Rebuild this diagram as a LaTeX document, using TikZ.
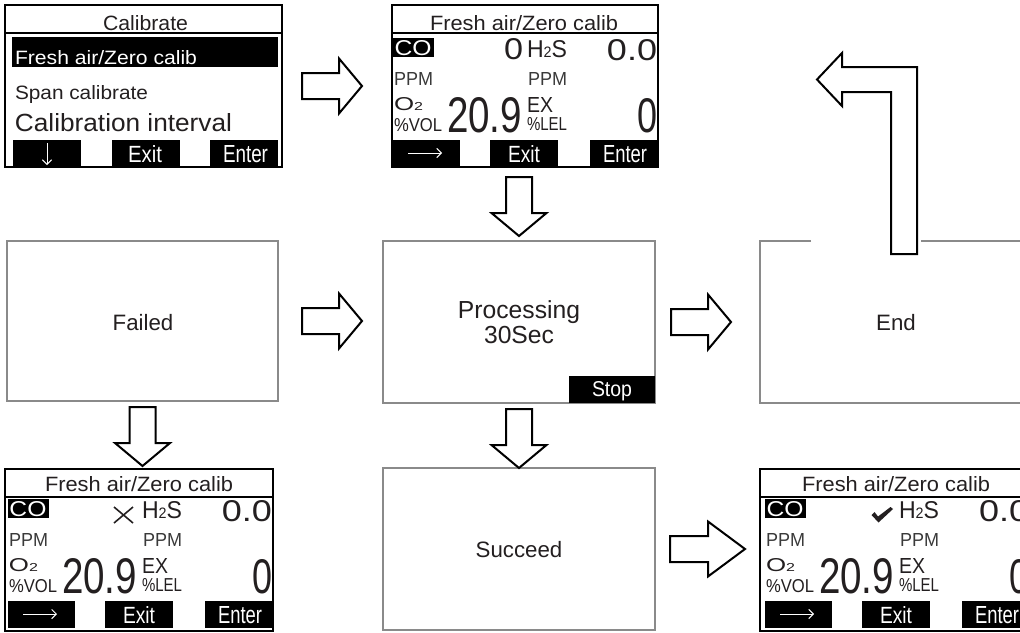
\documentclass[tikz,border=0pt]{standalone}
\usepackage{fontspec}
\setmainfont{Liberation Sans}
\usetikzlibrary{calc,arrows.meta}
\newdimen\pxu \pxu=0.75pt
\newcommand\fitT[3]{\resizebox{#1\pxu}{#2\pxu}{#3}}
\definecolor{ink}{HTML}{231F20}
\definecolor{inkg}{HTML}{3A3A3A}
\definecolor{frameg}{HTML}{8A8A8A}
\tikzset{
  scr/.style={draw=black, line width=0.8pt, fill=white, inner sep=0pt, outer sep=0pt, anchor=north west},
  panel/.style={draw=frameg, line width=1pt, inner sep=0pt, outer sep=0pt, anchor=north west},
  tx/.style={inner sep=0pt, outer sep=0pt, text=ink},
  wtx/.style={inner sep=0pt, outer sep=0pt, text=white},
  bar/.style={fill=black, draw=none},
  sepl/.style={draw=black, line width=0.8pt},
  barrow/.style={draw=black, line width=1.5pt, fill=white, line join=miter},
  thin arr/.style={white, line width=0.7pt, -{Straight Barb[length=3.5pt, width=7pt]}},
  midtext/.style={tx, anchor=base, font=\fontsize{16.7}{19}\selectfont},
}
\newcommand\rarr[3]{%
  \draw[barrow] (#1) ++(0,-13) -- ++(#2,0) -- ++(0,-14.5) -- ++(#3,27.5) -- ++(-#3,27.5) -- ++(0,-14.5) -- ++(-#2,0) -- cycle;}
\newcommand\darr[1]{%
  \draw[barrow] (#1) ++(-13,0) -- ++(26,0) -- ++(0,36) -- ++(14.5,0) -- ++(-27.5,23) -- ++(-27.5,-23) -- ++(14.5,0) -- cycle;}
\newcommand\gascontent[4]{%
\begin{scope}[shift={(#2,#3)}]
  \node[tx, anchor=base west] (#1t) at (38,25) {\fitT{188}{15}{Fresh air/Zero calib}};
  \fill[bar] (1,33) rectangle (42,52);
  \node[wtx, anchor=base west] (#1co) at (2.5,50) {\fitT{37}{15}{CO}};
  #4
  \node[tx, anchor=base west] (#1h) at (135,52) {\fitT{40}{17}{H\scalebox{0.62}{2}S}};
  \node[tx, anchor=base east] (#1a) at (265,55) {\fitT{50}{21}{0.0}};
  \node[tx, text=inkg, anchor=base west] (#1p) at (2,80) {\fitT{39}{13}{PPM}};
  \node[tx, text=inkg, anchor=base west] (#1q) at (136,80) {\fitT{39}{13}{PPM}};
  \node[tx, anchor=base west] (#1o) at (2,105) {\fitT{29}{13}{O\scalebox{0.62}{2}}};
  \node[tx, anchor=base west] (#1v) at (2,126) {\fitT{48}{13}{\%VOL}};
  \node[tx, anchor=base west] (#1n) at (55,127) {\fitT{75}{35}{20.9}};
  \node[tx, anchor=base west] (#1e) at (135,107) {\fitT{26}{15}{EX}};
  \node[tx, anchor=base west] (#1l) at (135,125) {\fitT{40}{13}{\%LEL}};
  \node[tx, anchor=base east] (#1z) at (265,127) {\fitT{20}{34}{0}};
  \fill[bar] (1,135) rectangle (68,162);
  \fill[bar] (98,135) rectangle (166,162);
  \fill[bar] (198,135) rectangle (265,162);
  \draw[thin arr] (16,148) -- (50,148);
  \node[wtx, anchor=base west] (#1x) at (116,157) {\fitT{32}{17}{Exit}};
  \node[wtx, anchor=base west] (#1en) at (211,157) {\fitT{44}{17}{Enter}};
\end{scope}}
\begin{document}
\begin{tikzpicture}[x=0.75pt, y=-0.75pt]
\useasboundingbox (0,0) rectangle (1020,632);
\clip (0,0) rectangle (1020,632);
\fill[white] (0,0) rectangle (1020,632);

% ---- screen 1: Calibrate menu
\node[scr, minimum width=277*0.75pt, minimum height=162*0.75pt] (s1) at (5,5) {};
\draw[sepl] ($(s1.north west)+(0,28)$) -- ($(s1.north east)+(0,28)$);
\node[tx, anchor=base] (s1t) at (145.5,30) {\fitT{85}{15}{Calibrate}};
\fill[bar] (12,37) rectangle (278,67);
\node[wtx, anchor=base west] (s1a) at (15,64) {\fitT{182}{14}{Fresh air/Zero calib}};
\node[tx, anchor=base west] (s1b) at (15,99) {\fitT{133}{14}{Span calibrate}};
\node[tx, anchor=base west] (s1c) at (15,131) {\fitT{217}{18}{Calibration interval}};
\fill[bar] (13,140) rectangle (81,167);
\fill[bar] (112,140) rectangle (180,167);
\fill[bar] (210,140) rectangle (278,167);
\draw[thin arr] (47,143) -- (47,165);
\node[wtx, anchor=base west] (s1x) at (128,162) {\fitT{34}{17}{Exit}};
\node[wtx, anchor=base west] (s1en) at (223,162) {\fitT{45}{17}{Enter}};

% ---- screen 2: zero calib
\node[scr, minimum width=266*0.75pt, minimum height=162*0.75pt] (s2) at (392,5) {};
\draw[sepl] ($(s2.north west)+(0,28)$) -- ($(s2.north east)+(0,28)$);
\gascontent{s2}{392}{5}{\node[tx, anchor=base east] (s2zero) at (131,54) {\fitT{19}{21}{0}};}

% ---- middle row panels
\node[panel, minimum width=271*0.75pt, minimum height=160*0.75pt] (fail) at (7,241) {};
\node[midtext] (failt) at (143,330) {Failed};
\node[panel, minimum width=272*0.75pt, minimum height=162*0.75pt] (proc) at (383,241) {};
\fill[bar] ($(proc.south east)+(-86,-27)$) rectangle (proc.south east);
\node[tx, anchor=base, font=\fontsize{18.5}{21}\selectfont] (proct) at (519,318) {Processing};
\node[tx, anchor=base, font=\fontsize{18.5}{21}\selectfont] (procs) at (519,343) {30Sec};
\node[wtx, anchor=base west] (stop) at (592,396) {\fitT{40}{15}{Stop}};
\node[inner sep=0pt, outer sep=0pt, anchor=north west, minimum width=272*0.75pt, minimum height=162*0.75pt] (end) at (760,241) {};
\draw[draw=frameg, line width=1pt] ($(end.north west)+(51,0)$) -- (end.north west) -- (end.south west) -- (end.south east) -- (end.north east) -- ($(end.north west)+(161,0)$);
\node[midtext] (endt) at (896,330) {End};
\node[panel, minimum width=272*0.75pt, minimum height=162*0.75pt] (succ) at (383,468) {};
\node[midtext] (succt) at (519,557) {Succeed};

% ---- bottom screens
\node[scr, minimum width=268*0.75pt, minimum height=162*0.75pt] (bl) at (5,469) {};
\draw[sepl] ($(bl.north west)+(0,28)$) -- ($(bl.north east)+(0,28)$);
\gascontent{bl}{7}{466}{\draw[ink, line width=1.2pt] (107,41) -- (126,57) (107,57) -- (126,41);}
\node[scr, minimum width=272*0.75pt, minimum height=162*0.75pt] (br) at (760,469) {};
\draw[sepl] ($(br.north west)+(0,28)$) -- ($(br.north east)+(0,28)$);
\gascontent{br}{764}{466}{\fill[ink] (107.5,49) -- (110.5,46) -- (114,50.5) -- (126.5,41) -- (129,43) -- (114.5,56.5) -- cycle;}

% ---- block arrows
\coordinate (a1) at ($(s1.east)+(20,0)$);
\rarr{a1}{37}{23}
\coordinate (a2) at ($(fail.east)+(24,0)$);
\rarr{a2}{37}{23}
\coordinate (a3) at ($(proc.east)+(16,0)$);
\rarr{a3}{37}{23}
\coordinate (a4) at ($(succ.east)+(15,0)$);
\rarr{a4}{38}{37}
\coordinate (d1) at ($(proc.north)+(0,-64)$);
\darr{d1}
\coordinate (d2) at ($(fail.south)+(0,6)$);
\darr{d2}
\coordinate (d3) at ($(proc.south)+(0,6)$);
\darr{d3}
% bent arrow from End back up
\coordinate (bw) at (end.north west);
\begin{scope}[shift={(bw)}]
\draw[barrow] (131,13) -- (157,13) -- (157,-174) -- (82,-174) -- (82,-188) -- (57,-161.5) -- (82,-135) -- (82,-149) -- (131,-149) -- cycle;
\end{scope}
\end{tikzpicture}
\end{document}
